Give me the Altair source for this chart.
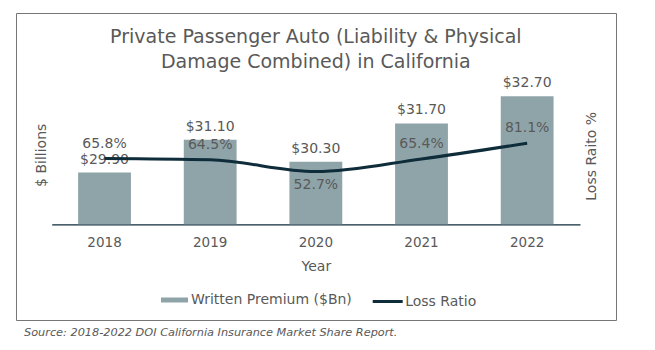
import json
import altair as alt
import pandas as pd

# ---- data ----
years = ["2018", "2019", "2020", "2021", "2022"]
premium = [29.90, 31.10, 30.30, 31.70, 32.70]
loss_ratio = [65.8, 64.5, 52.7, 65.4, 81.1]
premium_labels = ["$29.90", "$31.10", "$30.30", "$31.70", "$32.70"]
ratio_labels = ["65.8%", "64.5%", "52.7%", "65.4%", "81.1%"]
series_names = ["Written Premium ($Bn)", "Loss Ratio"]
title_lines = ["Private Passenger Auto (Liability & Physical",
               "Damage Combined) in California"]
source_text = "Source: 2018-2022 DOI California Insurance Market Share Report."

df = pd.DataFrame({
    "year": years,
    "premium": premium,
    "ratio": loss_ratio,
    "premium_label": premium_labels,
    "ratio_label": ratio_labels,
})

# ---- style ----
FONT = "Verdana, DejaVu Sans"
GREY = "#595959"
BAR = "#8fa4a9"
LINE = "#0e2c3a"
FRAME = "#767676"

W, H = 528.3, 163.5
PL, PT = 51.7, 60.8

base = alt.Chart(df)

x_enc = alt.X(
    "year:N",
    title="Year",
    sort=years,
    scale=alt.Scale(paddingInner=0.5, paddingOuter=0.25),
    axis=alt.Axis(
        labelAngle=0, ticks=False, tickSize=0, labelPadding=11,
        labelFontSize=13.5, labelColor=GREY, labelFont=FONT,
        domainColor=LINE, domainWidth=1.2, grid=False,
        titleFontSize=14, titleColor=GREY, titleFont=FONT,
        titleFontWeight="normal", titleY=42, titleBaseline="middle",
    ),
)

prem_scale = alt.Scale(domain=[28, 34], zero=False, nice=False)
ratio_scale = alt.Scale(domain=[0, 163.5], zero=False, nice=False)

left_axis = alt.Axis(
    orient="left", title="$ Billions", labels=False, ticks=False, domain=False,
    grid=False, titleAngle=-90, titleX=-10, titleY=94, titleAlign="center",
    titleBaseline="middle", titleFontSize=14, titleColor=GREY,
    titleFont=FONT, titleFontWeight="normal",
)
right_axis = alt.Axis(
    orient="right", title="Loss Raito %", labels=False, ticks=False,
    domain=False, grid=False, titleAngle=-90, titleX=11.7, titleY=95,
    titleAlign="center", titleBaseline="middle", titleFontSize=14,
    titleColor=GREY, titleFont=FONT, titleFontWeight="normal",
)

bars = base.mark_bar(color=BAR).transform_calculate(
    series=json.dumps(series_names[0])
).encode(
    x=x_enc,
    y=alt.Y("premium:Q", scale=prem_scale, axis=left_axis),
    y2=alt.datum(28),
    fill=alt.Fill(
        "series:N",
        scale=alt.Scale(domain=[series_names[0]], range=[BAR]),
        legend=alt.Legend(
            title=None, orient="none", legendX=109.3, legendY=225.7,
            symbolType="M-1,-0.185H1V0.185H-1Z", symbolSize=729,
            symbolStrokeWidth=0, symbolOpacity=1, labelFontSize=14,
            labelColor=GREY, labelFont=FONT, labelOffset=3, padding=0,
            labelLimit=400,
        ),
    ),
)

bar_text = base.mark_text(
    dy=-13, baseline="middle", fontSize=14, color=GREY, font=FONT
).encode(
    x=alt.X("year:N", sort=years),
    y=alt.Y("premium:Q", scale=prem_scale, axis=left_axis),
    text="premium_label:N",
)

line = base.mark_line(strokeWidth=3, interpolate="monotone").transform_calculate(
    series=json.dumps(series_names[1])
).encode(
    x=alt.X("year:N", sort=years),
    y=alt.Y("ratio:Q", scale=ratio_scale, axis=right_axis),
    stroke=alt.Stroke(
        "series:N",
        scale=alt.Scale(domain=[series_names[1]], range=[LINE]),
        legend=alt.Legend(
            title=None, orient="none", legendX=319.5, legendY=224.2,
            symbolType="stroke", symbolSize=900, symbolStrokeWidth=3,
            labelFontSize=14, labelColor=GREY, labelFont=FONT,
            labelOffset=1, padding=0, labelLimit=400,
        ),
    ),
)

ratio_text_common = dict(baseline="middle", fontSize=14, color=GREY, font=FONT)
ratio_enc = dict(
    x=alt.X("year:N", sort=years),
    y=alt.Y("ratio:Q", scale=ratio_scale, axis=right_axis),
    text="ratio_label:N",
)
ratio_above = base.transform_joinaggregate(min_ratio="min(ratio)").transform_filter(
    "datum.ratio > datum.min_ratio"
).mark_text(dy=-15, **ratio_text_common).encode(**ratio_enc)
ratio_below = base.transform_joinaggregate(min_ratio="min(ratio)").transform_filter(
    "datum.ratio <= datum.min_ratio"
).mark_text(dy=13.5, **ratio_text_common).encode(**ratio_enc)

frame = alt.Chart(alt.Data(values=[{"f": 1}])).mark_rect(
    fill="transparent", stroke=FRAME, strokeWidth=1
).encode(
    x=alt.value(-35.2), x2=alt.value(564.8),
    y=alt.value(-47.3), y2=alt.value(259.7),
)

source = alt.Chart(alt.Data(values=[{"t": source_text}])).mark_text(
    align="left", baseline="middle", fontStyle="italic", fontSize=11.3,
    color=GREY, font=FONT,
).encode(
    x=alt.value(-27.7), y=alt.value(272.2), text="t:N"
)

bar_group = alt.layer(bars, bar_text)
line_group = alt.layer(line, ratio_above, ratio_below)

chart = alt.layer(frame, bar_group, line_group, source).resolve_scale(
    y="independent"
).properties(
    width=W, height=H,
    background="white",
    autosize=alt.AutoSizeParams(type="none"),
    padding={"left": PL, "top": PT, "right": 655 - PL - W, "bottom": 350 - PT - H},
    title=alt.TitleParams(
        text=title_lines, anchor="middle", fontSize=19, font=FONT, color=GREY,
        fontWeight="normal", lineHeight=25, dy=63,
    ),
).configure_view(stroke="transparent", strokeWidth=0)

chart.save("out.html", embed_options={"renderer": "svg", "actions": False})
